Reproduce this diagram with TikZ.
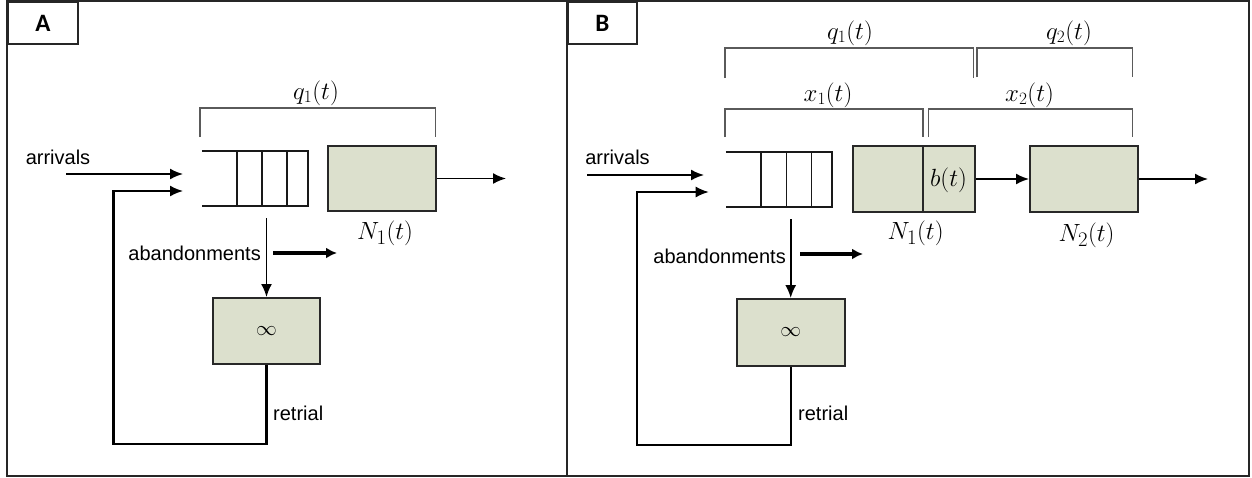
\documentclass[tikz,border=0pt]{standalone}
\usepackage[no-math]{fontspec}
\newfontfamily\arialf{Liberation Sans}
\newfontfamily\calibf{Carlito}
\usetikzlibrary{arrows.meta}
\definecolor{srvfill}{RGB}{220,224,205}
\definecolor{boxline}{RGB}{40,40,40}
\definecolor{brk}{RGB}{90,90,90}
\tikzset{
  frame/.style={draw=black!85, line width=1.8pt},
  tagbox/.style={draw=black!85, line width=1.8pt, fill=white},
  tagtext/.style={font=\calibf\bfseries\fontsize{25}{28}\selectfont},
  server/.style={draw=boxline, line width=2pt, fill=srvfill, inner sep=0pt},
  queuebox/.style={draw=none, inner sep=0pt, minimum width=106pt, minimum height=55pt},
  qline/.style={draw=black!90, line width=1.8pt},
  bracket/.style={draw=brk, line width=1.3pt},
  arr/.style={draw=black, line width=1.7pt, -{Latex[length=13pt,width=11pt]}},
  thickarr/.style={draw=black, line width=3.6pt, -{Latex[length=11pt,width=11pt]}},
  path/.style={draw=black, line width=2.2pt},
  sans/.style={font=\arialf\fontsize{20}{22}\selectfont, inner sep=0pt},
  mlab/.style={font=\fontsize{24}{28}\selectfont, inner sep=0pt},
  nlab/.style={font=\fontsize{28}{32}\selectfont, inner sep=0pt},
}
\begin{document}
\begin{tikzpicture}[x=1pt,y=-1pt]
\useasboundingbox (0,0) rectangle (1252,477);
% frames
\draw[frame] (7,1) rectangle (567,476);
\draw[frame] (567,1) rectangle (1249,476);
\node[tagbox, minimum width=70pt, minimum height=42pt, anchor=north west] (tagA) at (7,1) {};
\node[tagtext] at (tagA.center) {A};
\node[tagbox, minimum width=69pt, minimum height=42pt, anchor=north west] (tagB) at (567,1) {};
\node[tagtext] at (tagB.center) {B};

% ================= Panel A =================
\node[queuebox] (qA) at (255,178.5) {};
\draw[qline] (qA.north west) -- (qA.north east) -- (qA.south east) -- (qA.south west);
\draw[qline] ([xshift=35.5pt]qA.north west) -- ([xshift=35.5pt]qA.south west);
\draw[qline] ([xshift=60.5pt]qA.north west) -- ([xshift=60.5pt]qA.south west);
\draw[qline] ([xshift=85pt]qA.north west) -- ([xshift=85pt]qA.south west);
\node[server, minimum width=108pt, minimum height=65pt] (sA) at (382,178.5) {};
\node[server, minimum width=107pt, minimum height=66pt, font=\fontsize{21}{24}\selectfont] (iA) at (266.5,331) {$\infty$};
\draw[bracket] (200,137) -- (200,108) -- (435.6,108) -- (435.6,137);
\node[mlab] (q1A) at (316,93) {$q_1(t)$};
\node[nlab] (n1A) at (385,233) {$N_1(t)$};
\node[sans] (arrA) at (58,157) {arrivals};
\coordinate (arrAs) at (66,174);
\coordinate (arrAe) at (183,174);
\draw[arr] (arrAs) -- (arrAe);
\coordinate (retAe) at (183,191);
\draw[path] (iA.south) -- (266.5,444) -- (113.5,444) -- (113.5,191) -- (168,191);
\draw[arr] (168,191) -- (retAe);
\coordinate (abA) at (266.5,218);
\draw[arr] (abA) -- (iA.north);
\node[sans, anchor=east] (abtA) at (261,253) {abandonments};
\coordinate (abAs) at (273,253);
\coordinate (abAe) at (337,253);
\draw[thickarr] (abAs) -- (abAe);
\node[sans, anchor=west] (retA) at (273,413) {retrial};
\coordinate (outA) at (506,178.5);
\draw[arr] (sA.east) -- (outA);

% ================= Panel B =================
\node[queuebox] (qB) at (779,179.5) {};
\draw[qline] (qB.north west) -- (qB.north east) -- (qB.south east) -- (qB.south west);
\draw[qline] ([xshift=35pt]qB.north west) -- ([xshift=35pt]qB.south west);
\draw[qline] ([xshift=60.7pt]qB.north west) -- ([xshift=60.7pt]qB.south west);
\draw[qline] ([xshift=85.7pt]qB.north west) -- ([xshift=85.7pt]qB.south west);
\node[server, minimum width=121.7pt, minimum height=66pt] (sB1) at (913.85,179) {};
\draw[line width=2pt, boxline] (923,146) -- (923,212);
\node[server, minimum width=107.7pt, minimum height=66pt] (sB2) at (1083.85,179) {};
\node[server, minimum width=107.8pt, minimum height=67pt, font=\fontsize{21}{24}\selectfont] (iB) at (790.7,332.5) {$\infty$};
\draw[bracket] (725,78) -- (725,48) -- (973.4,48) -- (973.4,78);
\draw[bracket] (977,77) -- (977,48) -- (1132.5,48) -- (1132.5,77);
\draw[bracket] (725,137) -- (725,109) -- (923,109) -- (923,137);
\draw[bracket] (928.7,137) -- (928.7,109) -- (1132.5,109) -- (1132.5,137);
\node[mlab] (q1B) at (850,33) {$q_1(t)$};
\node[mlab] (q2B) at (1069,33) {$q_2(t)$};
\node[mlab] (x1B) at (828,95) {$x_1(t)$};
\node[mlab] (x2B) at (1029.5,95) {$x_2(t)$};
\node[nlab] (bB) at (948.5,180) {$b(t)$};
\node[nlab] (n1B) at (915.6,233) {$N_1(t)$};
\node[nlab] (n2B) at (1086.5,235) {$N_2(t)$};
\node[sans] (arrB) at (617.5,157) {arrivals};
\coordinate (arrBs) at (587,175);
\coordinate (arrBe) at (704,175);
\draw[arr] (arrBs) -- (arrBe);
\coordinate (retBe) at (708.7,192);
\draw[path] (iB.south) -- (790.7,445) -- (637.3,445) -- (637.3,192) -- (694,192);
\draw[arr] (694,192) -- (retBe);
\coordinate (abB) at (790.7,219);
\draw[arr] (abB) -- (iB.north);
\node[sans, anchor=east] (abtB) at (786,256) {abandonments};
\coordinate (abBs) at (800,254);
\coordinate (abBe) at (863,254);
\draw[thickarr] (abBs) -- (abBe);
\node[sans, anchor=west] (retB) at (798,413) {retrial};
\draw[arr] (sB1.east) -- (sB2.west);
\coordinate (outB) at (1208,179);
\draw[arr] (sB2.east) -- (outB);
\end{tikzpicture}
\end{document}
